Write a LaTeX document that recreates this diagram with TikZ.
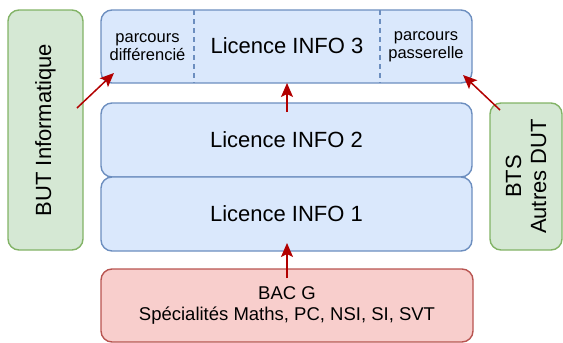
\documentclass[tikz,border=0pt]{standalone}
\usepackage{fontspec}
\setmainfont{Liberation Sans}
\usetikzlibrary{arrows.meta}
\definecolor{bfill}{HTML}{DAE8FC}
\definecolor{bdraw}{HTML}{6C8EBF}
\definecolor{gfill}{HTML}{D5E8D4}
\definecolor{gdraw}{HTML}{82B366}
\definecolor{rfill}{HTML}{F8CECC}
\definecolor{rdraw}{HTML}{B85450}
\definecolor{arr}{HTML}{B20000}
\tikzset{
  box/.style={rounded corners=11pt, line width=1.4pt, inner sep=0pt, align=center},
  bluebox/.style={box, fill=bfill, draw=bdraw},
  greenbox/.style={box, fill=gfill, draw=gdraw},
  redbox/.style={box, fill=rfill, draw=rdraw},
  conn/.style={draw=arr, line width=1.5pt, -{Stealth[length=14pt,width=12pt,inset=3pt]}},
  divider/.style={draw=bdraw, line width=1.2pt, dash pattern=on 5pt off 4pt},
  big/.style={font=\fontsize{22}{26}\selectfont},
  small/.style={font=\fontsize{16.5}{20}\selectfont},
  mid/.style={font=\fontsize{18.5}{22}\selectfont}
}
\begin{document}
\begin{tikzpicture}[x=1pt,y=-1pt]
\useasboundingbox (0,0) rectangle (563,343);
% main blocks
\node[bluebox, minimum width=371pt, minimum height=73pt] (l3) at (286.5,46.5) {};
\node[bluebox, minimum width=371pt, minimum height=74pt, big] (l2) at (286.5,140) {Licence INFO 2};
\node[bluebox, minimum width=371pt, minimum height=74pt, big] (l1) at (286.5,214) {Licence INFO 1};
\node[redbox, minimum width=372pt, minimum height=73pt, mid] (bac) at (287,305.5) {BAC G\\[-1pt]Spécialités Maths, PC, NSI, SI, SVT};
% side blocks
\node[greenbox, minimum width=75pt, minimum height=240pt] (but) at (45.5,130) {};
\node[big, rotate=90] (butt) at (but.center) {BUT Informatique};
\node[greenbox, minimum width=72pt, minimum height=147pt] (bts) at (526,176.5) {};
\node[big, rotate=90, align=center] (btst) at (bts.center) {BTS\\[-1pt]Autres DUT};
% L3 contents
\coordinate (d1t) at (194,10); \coordinate (d1b) at (194,83);
\coordinate (d2t) at (380,10); \coordinate (d2b) at (380,83);
\draw[divider] (d1t) -- (d1b);
\draw[divider] (d2t) -- (d2b);
\node[small, align=center] (pd) at (147.5,47) {parcours\\[-2pt]différencié};
\node[big] (l3t) at (287,46) {Licence INFO 3};
\node[small, align=center] (pp) at (426,47) {parcours\\[-2pt]passerelle};
% connectors
\coordinate (a1s) at (77,108); \coordinate (a1e) at (114,73);
\coordinate (a2s) at (287,112); \coordinate (a2e) at (287,83);
\coordinate (a3s) at (500,110); \coordinate (a3e) at (463,75);
\coordinate (a4s) at (287,278); \coordinate (a4e) at (287,243);
\draw[conn] (a1s) -- (a1e);
\draw[conn] (a2s) -- (a2e);
\draw[conn] (a3s) -- (a3e);
\draw[conn] (a4s) -- (a4e);
\end{tikzpicture}
\end{document}
